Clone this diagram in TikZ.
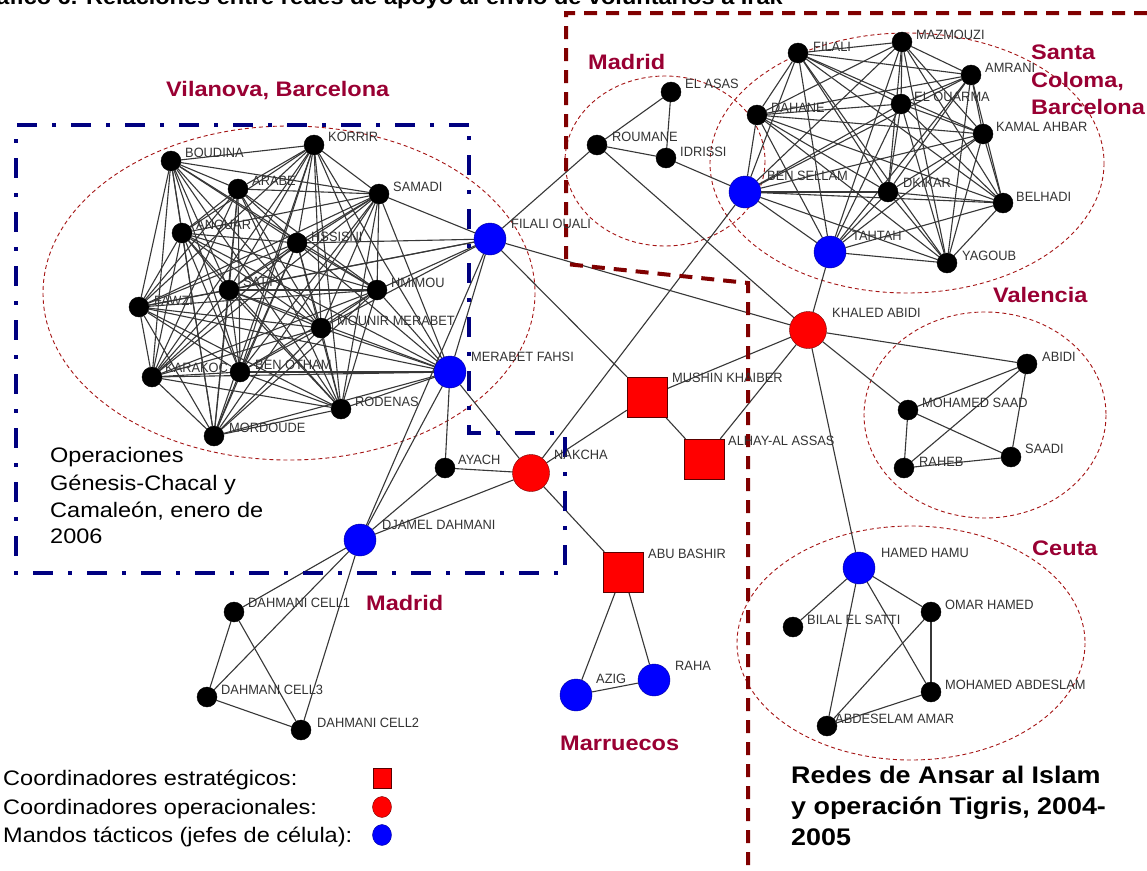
\documentclass[tikz,border=0pt]{standalone}
\usepackage{fontspec}
\setmainfont{Liberation Sans}[FakeStretch=1.12]
\newfontfamily\lblfont{Liberation Sans}[FakeStretch=0.95]
\usetikzlibrary{backgrounds,shapes.geometric}
\definecolor{navyb}{RGB}{0,0,128}
\definecolor{dred}{RGB}{128,0,0}
\definecolor{lblred}{RGB}{153,0,51}
\definecolor{ellred}{RGB}{165,20,20}
\definecolor{edgec}{RGB}{55,55,55}
\pgfdeclarelayer{bg}
\pgfsetlayers{bg,background,main}
\newcommand\mknode[5]{\node[#1] (#2) at (#3) {}; \node[lbl] (#2-l) at (#4) {#5};}
\begin{document}
\begin{tikzpicture}[x=1pt,y=-1pt,
  bk/.style={circle,fill=black,draw=black,inner sep=0,minimum size=20},
  bl/.style={circle,fill=blue,draw=blue!60!black,inner sep=0,minimum size=32},
  rc/.style={circle,fill=red,draw=red!45!black,inner sep=0,minimum size=37},
  rs/.style={rectangle,fill=red,draw=red!35!black,inner sep=0,minimum size=40},
  lbl/.style={anchor=base west,inner sep=0,text=black!80,font=\lblfont\fontsize{13.5}{14}\selectfont},
  edge/.style={draw=edgec,line width=1.1},
  ell/.style={draw=ellred,line width=0.9,dash pattern=on 4 off 3},
  reg/.style={anchor=base west,inner sep=0,text=lblred,font=\fontsize{21}{24}\selectfont\bfseries},
  txt/.style={anchor=base west,inner sep=0,text=black,font=\fontsize{21}{24}\selectfont},
  btxt/.style={anchor=base west,inner sep=0,text=black,font=\fontsize{24}{28}\selectfont\bfseries},
  bluebox/.style={draw=navyb,line width=4.5,dash pattern=on 20 off 15 on 4 off 15},
  redbox/.style={draw=dred,line width=4,dash pattern=on 13 off 9}
]
\begin{pgfonlayer}{bg}
\fill[white] (0,0) rectangle (1147,870);
\end{pgfonlayer}
\useasboundingbox (0,0) rectangle (1147,870);

% title (cut at top, as in the reference)
\begin{scope}
\clip (0,0) rectangle (1147,870);
\node[anchor=base east,inner sep=0,font=\fontsize{21}{24}\selectfont\bfseries] (title) at (783,5) {Gráfico 6. Relaciones entre redes de apoyo al envío de voluntarios a Irak};
\end{scope}

% ---- nodes: Vilanova
\mknode{bk}{bou}{171,161}{185,157}{BOUDINA}
\mknode{bk}{kor}{314,145}{328,141}{KORRIR}
\mknode{bk}{ara}{238,189}{252,185}{ARABE}
\mknode{bk}{sam}{379,194}{393,191}{SAMADI}
\mknode{bk}{ano}{182,233}{196,229}{ANOUAR}
\mknode{bk}{hss}{297,243}{311,241}{HSSISNI}
\mknode{bk}{sat}{229,290}{243,286}{SATTY}
\mknode{bk}{hmi}{377,290}{391,287}{HMIMOU}
\mknode{bk}{faw}{139,307}{154,305}{FAWZI}
\mknode{bk}{mou}{321,328}{337,325}{MOUNIR MERABET}
\mknode{bk}{kar}{152,377}{165,372}{KARAKOC}
\mknode{bk}{bot}{240,372}{255,369}{BEN OTHAM}
\mknode{bk}{rod}{341,409}{355,406}{RODENAS}
\mknode{bk}{mor}{214,436}{229,432}{MORDOUDE}
\mknode{bl}{fo}{490,239}{511,228}{FILALI OUALI}
\mknode{bl}{mf}{450,372}{471,361}{MERABET FAHSI}
% Madrid top
\mknode{bk}{eas}{671,92}{685,88}{EL ASAS}
\mknode{bk}{rou}{597,145}{612,141}{ROUMANE}
\mknode{bk}{idr}{666,158}{680,156}{IDRISSI}
% Santa Coloma
\mknode{bl}{bs}{745,192}{767,180}{BEN SELLAM}
\mknode{bk}{fil}{798,53}{813,51}{FILALI}
\mknode{bk}{maz}{902,42}{916,39}{MAZMOUZI}
\mknode{bk}{amr}{971,75}{985,72}{AMRANI}
\mknode{bk}{dah}{757,115}{771,112}{DAHANE}
\mknode{bk}{elo}{901,104}{914,101}{EL OUARMA}
\mknode{bk}{kam}{983,134}{996,131}{KAMAL AHBAR}
\mknode{bk}{dki}{888,192}{903,187}{DKIKAR}
\mknode{bk}{bel}{1003,203}{1016,201}{BELHADI}
\mknode{bl}{tah}{830,252}{852,240}{TAHTAH}
\mknode{bk}{yag}{947,263}{962,260}{YAGOUB}
% centre
\mknode{rc}{ka}{808,330}{832,317}{KHALED ABIDI}
\mknode{rs}{mk}{647,397}{672,382}{MUSHIN KHAIBER}
\mknode{rs}{al}{704,459}{728,445}{ALHAY-AL ASSAS}
\mknode{rc}{nak}{531,473}{554,459}{NAKCHA}
\mknode{bk}{aya}{445,468}{458,464}{AYACH}
\mknode{bl}{dj}{360,540}{382,529}{DJAMEL DAHMANI}
\mknode{rs}{ab}{623,572}{648,558}{ABU BASHIR}
\mknode{bl}{azi}{576,695}{596,683}{AZIG}
\mknode{bl}{rah}{654,680}{675,670}{RAHA}
\mknode{bk}{c1}{234,612}{248,607}{DAHMANI CELL1}
\mknode{bk}{c3}{207,697}{221,694}{DAHMANI CELL3}
\mknode{bk}{c2}{301,730}{317,727}{DAHMANI CELL2}
% Valencia
\mknode{bk}{abi}{1027,364}{1042,361}{ABIDI}
\mknode{bk}{ms}{908,410}{922,407}{MOHAMED SAAD}
\mknode{bk}{saa}{1011,457}{1025,453}{SAADI}
\mknode{bk}{rab}{904,468}{919,466}{RAHEB}
% Ceuta
\mknode{bl}{hh}{859,568}{881,557}{HAMED HAMU}
\mknode{bk}{bil}{793,627}{807,624}{BILAL EL SATTI}
\mknode{bk}{om}{931,612}{945,609}{OMAR HAMED}
\mknode{bk}{mab}{931,692}{945,689}{MOHAMED ABDESLAM}
\mknode{bk}{aa}{827,726}{835,723}{ABDESELAM AMAR}

\begin{pgfonlayer}{background}
% ellipses
\draw[ell] (289,293) ellipse [x radius=246, y radius=167];
\draw[ell] (665,161) ellipse [x radius=100, y radius=85];
\draw[ell] (907,163) ellipse [x radius=197, y radius=130];
\draw[ell] (985,415) ellipse [x radius=121, y radius=103];
\draw[ell] (911,643) ellipse [x radius=174, y radius=117];
% dense clusters
\foreach \a [count=\i] in {bou,kor,ara,sam,ano,hss,sat,hmi,faw,mou,kar,bot,rod,mor}{
  \foreach \b [count=\j] in {bou,kor,ara,sam,ano,hss,sat,hmi,faw,mou,kar,bot,rod,mor}{
    \ifnum\j>\i \draw[edge] (\a) -- (\b);\fi
  }
}
\foreach \a [count=\i] in {fil,maz,amr,dah,elo,kam,dki,bel,yag,bs,tah}{
  \foreach \b [count=\j] in {fil,maz,amr,dah,elo,kam,dki,bel,yag,bs,tah}{
    \ifnum\j>\i \draw[edge] (\a) -- (\b);\fi
  }
}
\foreach \b in {kor,sam,ano,hss,sat,hmi,faw,mou,kar,bot,rod,mor}{\draw[edge] (mf) -- (\b);}
\foreach \b in {sam,hss,hmi,mou,sat,faw,mf,rou,ka,mk,dj}{\draw[edge] (fo) -- (\b);}
% Madrid top
\draw[edge] (eas) -- (rou);
\draw[edge] (eas) -- (idr);
\draw[edge] (rou) -- (idr);
\draw[edge] (idr) -- (bs);
\draw[edge] (rou) -- (ka);
\draw[edge] (bs) -- (nak);
\draw[edge] (tah) -- (ka);
% centre
\foreach \b in {mk,al,abi,ms,hh}{\draw[edge] (ka) -- (\b);}
\draw[edge] (mk) -- (al);
\draw[edge] (mk) -- (nak);
\foreach \b in {mf,aya,dj,ab}{\draw[edge] (nak) -- (\b);}
\draw[edge] (mf) -- (aya);
\draw[edge] (mf) -- (dj);
\foreach \b in {aya,c1,c2,c3}{\draw[edge] (dj) -- (\b);}
\draw[edge] (c1) -- (c3);
\draw[edge] (c1) -- (c2);
\draw[edge] (c3) -- (c2);
\draw[edge] (ab) -- (azi);
\draw[edge] (ab) -- (rah);
\draw[edge] (azi) -- (rah);
% Valencia
\draw[edge] (abi) -- (ms);
\draw[edge] (abi) -- (saa);
\draw[edge] (abi) -- (rab);
\draw[edge] (ms) -- (rab);
\draw[edge] (ms) -- (saa);
\draw[edge] (rab) -- (saa);
% Ceuta
\foreach \b in {bil,om,aa,mab}{\draw[edge] (hh) -- (\b);}
\draw[edge] (om) -- (mab);
\draw[edge] (om) -- (aa);
\draw[edge] (mab) -- (aa);
% region boxes
\draw[bluebox] (469,125) -- (16,125) -- (16,573) -- (565,573) -- (565,433) -- (469,433) -- cycle;
\draw[redbox] (1147,13) -- (566,13) -- (566,264) -- (748,283) -- (748,870);
\end{pgfonlayer}

% region labels
\node[reg] (r1) at (166,96.5) {Vilanova, Barcelona};
\node[reg] (r2) at (588,69.5) {Madrid};
\node[reg] (r3a) at (1031,59.5) {Santa};
\node[reg] (r3b) at (1031,87.5) {Coloma,};
\node[reg] (r3c) at (1031,114.5) {Barcelona};
\node[reg] (r4) at (993,302.5) {Valencia};
\node[reg] (r5) at (1032,555.5) {Ceuta};
\node[reg] (r6) at (366,610.5) {Madrid};
\node[reg] (r7) at (560,750.5) {Marruecos};

% texts
\node[txt] (op1) at (50,462.5) {Operaciones};
\node[txt] (op2) at (50,490) {Génesis-Chacal y};
\node[txt] (op3) at (50,517.5) {Camaleón, enero de};
\node[txt] (op4) at (50,543) {2006};
\node[btxt] (rd1) at (791,783.5) {Redes de Ansar al Islam};
\node[btxt] (rd2) at (791,814.5) {y operación Tigris, 2004-};
\node[btxt] (rd3) at (791,845.5) {2005};

% legend
\node[txt] (lg1) at (3,785) {Coordinadores estratégicos:};
\node[txt] (lg2) at (3,814) {Coordinadores operacionales:};
\node[txt] (lg3) at (3,842) {Mandos tácticos (jefes de célula):};
\node[rectangle,fill=red,draw=red!35!black,inner sep=0,minimum width=18,minimum height=20] (leg1) at (382,778) {};
\node[ellipse,fill=red,draw=red!45!black,inner sep=0,minimum width=19,minimum height=21] (leg2) at (382,807) {};
\node[ellipse,fill=blue,draw=blue!60!black,inner sep=0,minimum width=19,minimum height=21] (leg3) at (382,835) {};
\end{tikzpicture}
\end{document}
